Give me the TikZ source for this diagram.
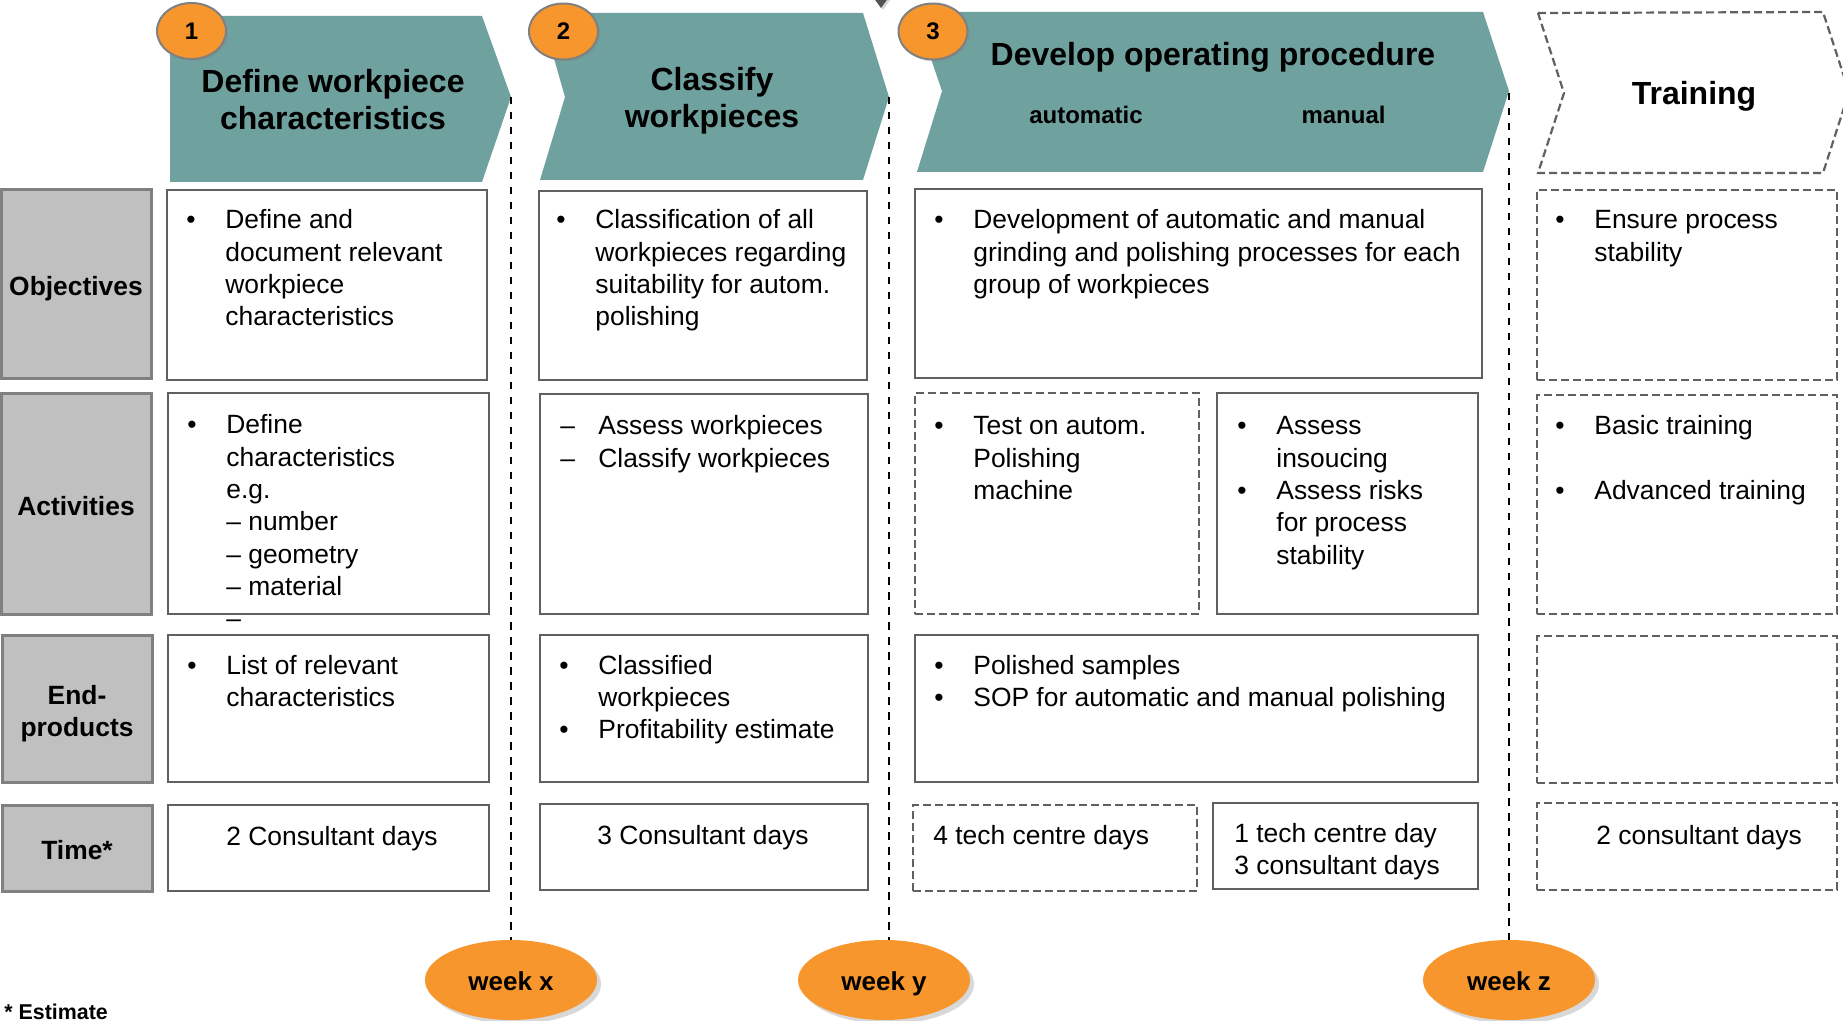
\documentclass[tikz,border=0pt]{standalone}
\usepackage{fontspec}
\setmainfont{Liberation Sans}
\usetikzlibrary{shapes.geometric,fit,shadows}

\definecolor{tealc}{RGB}{111,161,158}
\definecolor{orng}{RGB}{247,150,44}
\definecolor{labfill}{RGB}{192,192,192}
\definecolor{labline}{RGB}{128,128,128}
\definecolor{boxline}{RGB}{96,96,96}

\newcommand\bodyfont{\fontsize{13.2pt}{16.15pt}\selectfont}
\newcommand\headfont{\fontsize{16pt}{18.25pt}\selectfont\bfseries}
\newcommand\subheadfont{\fontsize{12pt}{14pt}\selectfont\bfseries}
\newcommand\labfont{\fontsize{13.2pt}{16.15pt}\selectfont\bfseries}
\newcommand\bitem[1]{\par\noindent\hangindent=17pt\hangafter=1\makebox[17pt][l]{\hspace{-2.5pt}\textbullet}#1\par}
\newcommand\ditem[1]{\par\noindent\hangindent=19pt\hangafter=1\makebox[19pt][l]{\textendash}#1\par}
\newcommand\blk[1]{\parbox[t]{300pt}{#1}}
\newcommand\cblk[1]{\parbox[t]{250pt}{\centering #1}}

\tikzset{
  labbox/.style={draw=labline, fill=labfill, line width=1.5pt, inner sep=0pt},
  labtxt/.style={inner sep=0pt, font=\labfont, align=center},
  sbox/.style={draw=boxline, line width=1.2pt, inner sep=0pt},
  dbox/.style={draw=boxline, line width=1.1pt, dash pattern=on 4pt off 2pt, inner sep=0pt},
  txt/.style={anchor=base west, inner sep=0pt, font=\bodyfont},
  hd/.style={anchor=base, inner sep=0pt, font=\headfont},
  subhd/.style={anchor=base, inner sep=0pt, font=\subheadfont},
  chev/.style={fill=tealc},
  dchev/.style={draw=boxline, line width=1.1pt, dash pattern=on 4pt off 2pt, fill=white},
  numc/.style={ellipse, fill=orng, draw=labline, line width=1pt, minimum width=34.5pt, minimum height=28pt, inner sep=0pt, font=\fontsize{12pt}{14pt}\selectfont\bfseries, drop shadow={opacity=0.25, shadow xshift=1pt, shadow yshift=-1pt}},
  wk/.style={ellipse, fill=orng, minimum width=86pt, minimum height=40pt, inner sep=0pt, text height=10.5pt, text depth=0pt, font=\fontsize{13pt}{15pt}\selectfont\bfseries, drop shadow={opacity=0.3, shadow xshift=2pt, shadow yshift=-2pt}},
  sepline/.style={draw=black, line width=0.9pt, dash pattern=on 3.75pt off 3.75pt}
}

\begin{document}
\begin{tikzpicture}[x=0.5pt, y=-0.5pt]
\useasboundingbox (0,0) rectangle (1843,1021);
\fill[white] (0,0) rectangle (1843,1021);

% small grey marker at top
\fill[gray!65!black, drop shadow={opacity=0.3, shadow xshift=1pt, shadow yshift=-1pt}] (873,-3) -- (889,-3) -- (881,8) -- cycle;

% chevrons
\fill[chev] (170,16) -- (482,16) -- (511,97) -- (482,182) -- (170,182) -- cycle;
\fill[chev] (541,13) -- (863,13) -- (889,97) -- (863,180) -- (540,180) -- (565,97) -- cycle;
\fill[chev] (915,12) -- (1483,12) -- (1509,91) -- (1483,172) -- (917,172) -- (942,91) -- cycle;
\draw[dchev] (1538,13) -- (1823,12) -- (1849,92) -- (1823,173) -- (1538,173) -- (1564,93) -- cycle;

\coordinate (t1) at (511,97);
\coordinate (t2) at (889,97);
\coordinate (t3) at (1509,93);

% header texts
\node[hd] (h1) at (333,93) {\cblk{Define workpiece\\characteristics}};
\node[hd] (h2) at (712,91) {\cblk{Classify\\workpieces}};
\node[hd] (h3) at (1213,66) {Develop operating procedure};
\node[subhd] (h3a) at (1086,124) {automatic};
\node[subhd] (h3b) at (1343.5,124) {manual};
\node[hd] (h4) at (1694,105) {Training};

% number circles
\node[numc] (c1) at (191.5,31) {1};
\node[numc] (c2) at (563.5,31.5) {2};
\node[numc] (c3) at (933,31.5) {3};

% row labels
\node[labbox, fit={(1,190) (151,379)}] (lobj) {};
\node[labbox, fit={(1,394) (151,614)}] (lact) {};
\node[labbox, fit={(2,635) (152,782)}] (lend) {};
\node[labbox, fit={(2,805) (152,891)}] (ltime) {};
\node[labtxt] (lobjt) at ([yshift=-2pt]lobj.center) {Objectives};
\node[labtxt] (lactt) at ([yshift=-1.2pt]lact.center) {Activities};
\node[labtxt] (lendt) at ([yshift=-2.5pt]lend.center) {End-\\products};
\node[labtxt] (ltimet) at ([yshift=-1.2pt]ltime.center) {Time*};

% column 1
\node[sbox, fit={(167,190) (487,380)}] (o1) {};
\node[sbox, fit={(168,393) (489,614)}] (a1) {};
\node[sbox, fit={(168,635) (489,782)}] (e1) {};
\node[sbox, fit={(168,805) (489,891)}] (tm1) {};

% column 2
\node[sbox, fit={(539,191) (867,380)}] (o2) {};
\node[sbox, fit={(540,394) (868,614)}] (a2) {};
\node[sbox, fit={(540,635) (868,782)}] (e2) {};
\node[sbox, fit={(540,804) (868,890)}] (tm2) {};

% column 3
\node[sbox, fit={(915,189) (1482,378)}] (o3) {};
\node[dbox, fit={(915,393) (1199,614)}] (a3l) {};
\node[sbox, fit={(1217,393) (1478,614)}] (a3r) {};
\node[sbox, fit={(915,635) (1478,782)}] (e3) {};
\node[dbox, fit={(913,805) (1197,891)}] (tm3l) {};
\node[sbox, fit={(1213,803) (1478,889)}] (tm3r) {};

% column 4
\node[dbox, fit={(1537,190) (1837,380)}] (o4) {};
\node[dbox, fit={(1537,395) (1837,614)}] (a4) {};
\node[dbox, fit={(1537,636) (1837,783)}] (e4) {};
\node[dbox, fit={(1537,803) (1837,890)}] (tm4) {};

% texts column 1
\node[txt] (xo1) at (191,229) {\blk{\bitem{Define and\\document relevant\\workpiece\\characteristics}}};
\node[txt] (xa1) at (192,434) {\blk{\bitem{Define\\characteristics\\e.g.\\\textendash{} number\\\textendash{} geometry\\\textendash{} material\\\textendash}}};
\node[txt] (xe1) at (192,674) {\blk{\bitem{List of relevant\\characteristics}}};
\node[txt] (xt1) at (226,845) {2 Consultant days};

% texts column 2
\node[txt] (xo2) at (561,229) {\blk{\bitem{Classification of all\\workpieces regarding\\suitability for autom.\\polishing}}};
\node[txt] (xa2) at (560,435) {\blk{\ditem{Assess workpieces}\ditem{Classify workpieces}}};
\node[txt] (xe2) at (564,674) {\blk{\bitem{Classified\\workpieces}\bitem{Profitability estimate}}};
\node[txt] (xt2) at (597,844) {3 Consultant days};

% texts column 3
\node[txt] (xo3) at (939,229) {\blk{\bitem{Development of automatic and manual\\grinding and polishing processes for each\\group of workpieces}}};
\node[txt] (xa3l) at (939,435) {\blk{\bitem{Test on autom.\\Polishing\\machine}}};
\node[txt] (xa3r) at (1242,435) {\blk{\bitem{Assess\\insoucing}\bitem{Assess risks\\for process\\stability}}};
\node[txt] (xe3) at (939,674) {\blk{\bitem{Polished samples}\bitem{SOP for automatic and manual polishing}}};
\node[txt] (xt3l) at (933,844) {4 tech centre days};
\node[txt] (xt3r) at (1234,842) {\blk{1 tech centre day\\3 consultant days}};

% texts column 4
\node[txt] (xo4) at (1560,229) {\blk{\bitem{Ensure process\\stability}}};
\node[txt] (xa4) at (1560,435) {\blk{\bitem{Basic training}\vspace{\baselineskip}\bitem{Advanced training}}};
\node[txt] (xt4) at (1596,844) {2 consultant days};

% week markers
\node[wk] (wx) at (511,980) {week x};
\node[wk] (wy) at (884,980) {week y};
\node[wk] (wz) at (1509,980) {week z};

\draw[sepline] (t1) -- (wx.north);
\draw[sepline] (t2) -- (t2 |- wy.north);
\draw[sepline] (t3) -- (wz.north);

\node[anchor=base west, inner sep=0pt, font=\fontsize{10.7pt}{12pt}\selectfont\bfseries] (est) at (4,1019) {* Estimate};
\end{tikzpicture}
\end{document}
